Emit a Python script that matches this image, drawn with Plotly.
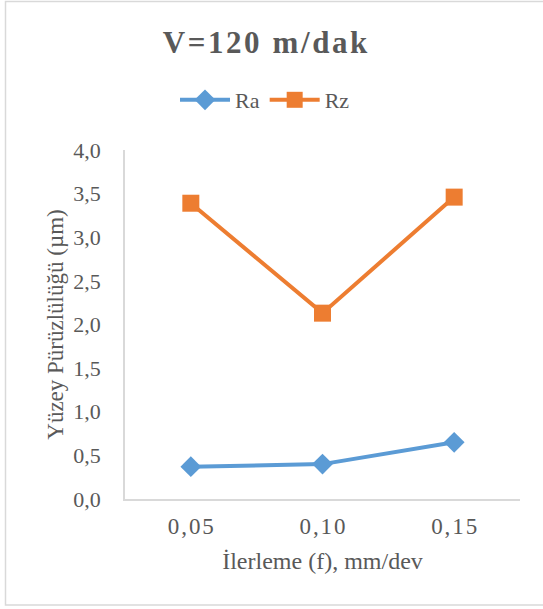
import plotly.graph_objects as go

categories = ["0,05", "0,10", "0,15"]
ra_values = [0.37, 0.40, 0.65]
rz_values = [3.39, 2.13, 3.46]
y_ticks = [0.0, 0.5, 1.0, 1.5, 2.0, 2.5, 3.0, 3.5, 4.0]

W, H = 543, 609
L, R, T, B = 125, 23, 150, 110
PW, PH = W - L - R, H - T - B

def spaced(s, sp="\u200a"):
    return sp.join(list(s))

def px_x(px):
    return (px - L) / PW

def px_y(py):
    return (H - B - py) / PH

grey = "#595959"
font = "Liberation Serif"

fig = go.Figure()
fig.add_trace(go.Scatter(
    x=list(range(len(categories))), y=ra_values, name="Ra", mode="lines+markers",
    line=dict(color="#5B9BD5", width=4),
    marker=dict(symbol="diamond", size=16, color="#5B9BD5"),
))
fig.add_trace(go.Scatter(
    x=list(range(len(categories))), y=rz_values, name="Rz", mode="lines+markers",
    line=dict(color="#ED7D31", width=4),
    marker=dict(symbol="square", size=17, color="#ED7D31"),
))

fig.update_layout(
    width=W, height=H,
    margin=dict(l=L, r=R, t=T, b=B),
    paper_bgcolor="white", plot_bgcolor="white",
    separators=",.",
    font=dict(family=font, color=grey, size=22),
    title=dict(text="<b>" + spaced("V=120 m/dak") + "</b>", x=265 / W, xanchor="center",
               y=1 - 42 / H, yanchor="middle",
               font=dict(size=31, color=grey, family=font)),
    showlegend=True,
    legend=dict(orientation="h", x=px_x(265), xanchor="center", y=px_y(100), yanchor="middle",
                font=dict(size=22, color=grey, family=font), itemwidth=50, bgcolor="rgba(0,0,0,0)"),
    xaxis=dict(
        range=[-0.5, len(categories) - 0.5],
        tickmode="array", tickvals=list(range(len(categories))),
        ticktext=[spaced(c) for c in categories],
        showgrid=False, zeroline=False, showline=True, linecolor="#d9d9d9", linewidth=1.5,
        ticks="", ticklabelstandoff=6,
        title=dict(text="İlerleme (f), mm/dev", standoff=14, font=dict(size=24, color=grey, family=font)),
        tickfont=dict(size=23, color=grey, family=font),
    ),
    yaxis=dict(
        range=[0, 4.0], tickmode="array", tickvals=y_ticks, tickformat=".1f",
        showgrid=False, zeroline=False, showline=True, linecolor="#d9d9d9", linewidth=1.5,
        ticks="", ticklabelstandoff=18,
        title=dict(text="Yüzey Pürüzlülüğü (µm)", standoff=3, font=dict(size=23, color=grey, family=font)),
        tickfont=dict(size=22, color=grey, family=font),
    ),
    shapes=[dict(type="rect", xref="paper", yref="paper",
                 x0=px_x(5.5), x1=px_x(560), y0=px_y(1.5), y1=px_y(605),
                 line=dict(color="#d9d9d9", width=1.5), fillcolor="rgba(0,0,0,0)", layer="below")],
)

fig.write_html("out.html")
